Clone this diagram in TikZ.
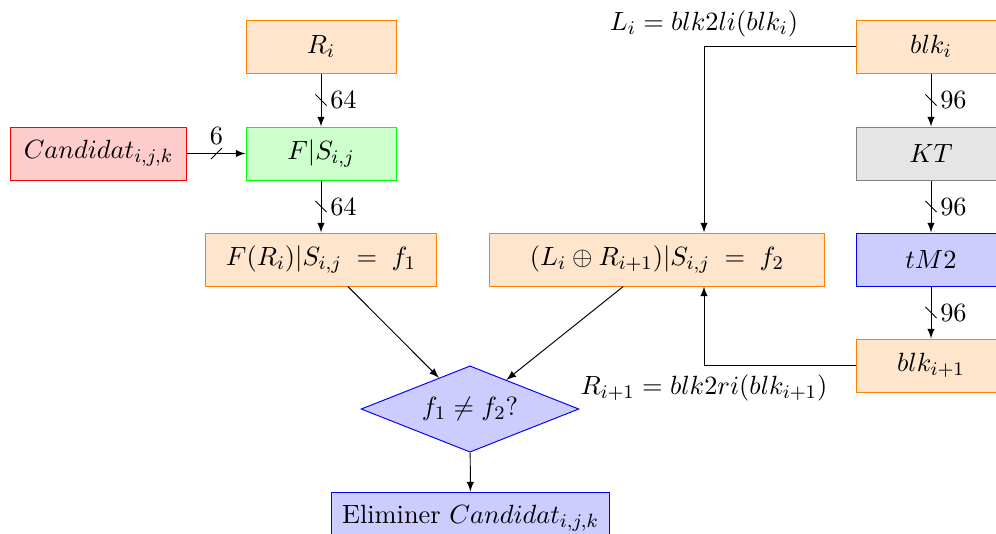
\documentclass[tikz,border=0pt,11pt]{standalone}
\usepackage{amssymb,amsmath}
\usetikzlibrary{shapes.geometric,decorations.markings}

\begin{document}
\begin{tikzpicture}[x=0.146mm,y=-0.146mm,>=latex,
        block/.style={rectangle,draw=#1,fill=#1!20,minimum width=21.9mm,minimum height=7.74mm,inner sep=2pt},
        decision/.style={diamond,draw=blue,fill=blue!20,aspect=2.5,minimum width=31.8mm,minimum height=12.6mm,inner sep=0pt},
        bus/.style={postaction={decorate},decoration={markings,mark=at position 0.5 with {\draw[-] (-2.3pt,-2.3pt) -- (2.3pt,2.3pt);}}}]

    \clip (0,0) rectangle (996,533);

    % left part
    \node[block=orange] (Ri) at (321,46.5) {$R_i$};
    \node[block=green] (FS) at (321,153.5) {$F|S_{i,j}$};
    \node[block=red,minimum width=25.8mm] (cand) at (98.5,153.5) {$Candidat_{i,j,k}$};
    \node[block=orange,minimum width=33.6mm] (f1) at (321,259.5) {$F(R_i)|S_{i,j}\;=\;f_1$};
    \node[block=orange,minimum width=49mm] (f2) at (657,259.5) {$(L_i\oplus R_{i+1})|S_{i,j}\;=\;f_2$};

    % right column
    \node[block=orange] (blki) at (931,46.5) {$blk_i$};
    \node[block=gray] (KT) at (931,153.5) {$KT$};
    \node[block=blue] (tM2) at (931,259.5) {$tM2$};
    \node[block=orange] (blkn) at (931,365.5) {$blk_{i+1}$};

    % test
    \node[decision] (cmp) at (470,409) {$f_1\neq f_2?$};
    \node[block=blue,minimum width=40.7mm] (elim) at (470.5,518.5) {Eliminer $Candidat_{i,j,k}$};

    \coordinate (jn) at (704,0);

    \draw[->,bus] (Ri) -- node[right] {$64$} (FS);
    \draw[->,bus] (cand) -- node[above] {$6$} (FS);
    \draw[->,bus] (FS) -- node[right] {$64$} (f1);
    \draw[->,bus] (blki) -- node[right] {$96$} (KT);
    \draw[->,bus] (KT) -- node[right] {$96$} (tM2);
    \draw[->,bus] (tM2) -- node[right] {$96$} (blkn);

    \draw[->] (blki.west) -| node[above] {$L_i=blk2li(blk_i)$} (f2.north -| jn);
    \draw[->] (blkn.west) -| node[below] {$R_{i+1}=blk2ri(blk_{i+1})$} (f2.south -| jn);

    \draw[->] (f1) -- (cmp);
    \draw[->] (f2) -- (cmp);
    \draw[->] (cmp) -- (elim);
\end{tikzpicture}
\end{document}
